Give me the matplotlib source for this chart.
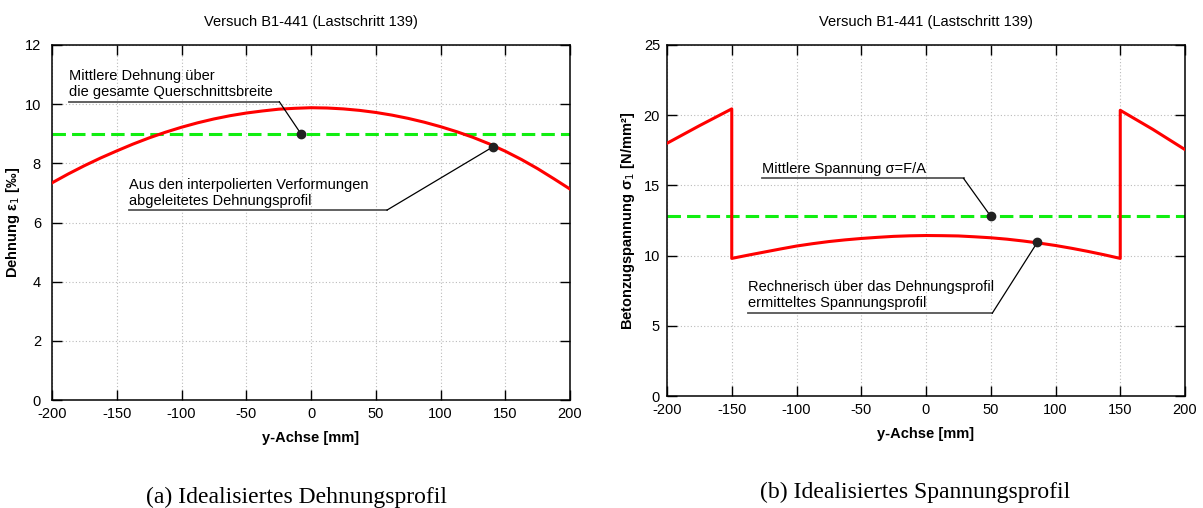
import numpy as np
import matplotlib.pyplot as plt

plt.rcParams['font.family'] = ['Liberation Sans', 'DejaVu Sans']
plt.rcParams['axes.unicode_minus'] = False

# data
y_pos = [-200, -187.5, -175, -162.5, -150, -137.5, -125, -112.5, -100, -87.5, -75, -62.5, -50, -37.5, -25,
         -12.5, 0, 12.5, 25, 37.5, 50, 62.5, 75, 87.5, 100, 112.5, 125, 137.5, 150, 162.5, 175, 187.5, 200]
strain = [7.34, 7.64, 7.92, 8.18, 8.42, 8.65, 8.86, 9.05, 9.22, 9.37, 9.50, 9.61, 9.70, 9.77, 9.83,
          9.86, 9.88, 9.87, 9.84, 9.79, 9.72, 9.63, 9.52, 9.39, 9.24, 9.07, 8.88, 8.66, 8.41, 8.13, 7.82, 7.48, 7.13]
strain_mean = 9.0

stress_y = [-200, -175, -150, -150, -137.5, -125, -112.5, -100, -87.5, -75, -62.5, -50, -37.5, -25, -12.5, 0,
            12.5, 25, 37.5, 50, 62.5, 75, 87.5, 100, 112.5, 125, 137.5, 150, 150, 175, 200]
stress = [18.0, 19.25, 20.45, 9.80, 10.03, 10.25, 10.47, 10.68, 10.85, 11.0, 11.12, 11.22, 11.30, 11.37, 11.41,
          11.43, 11.42, 11.40, 11.34, 11.27, 11.17, 11.04, 10.89, 10.72, 10.52, 10.30, 10.06, 9.80, 20.35, 19.0, 17.55]
stress_mean = 12.8

title = 'Versuch B1-441 (Lastschritt 139)'
xticks = [-200, -150, -100, -50, 0, 50, 100, 150, 200]

W, H = 1203, 508
fig = plt.figure(figsize=(W / 100, H / 100), dpi=100)
ax1 = fig.add_axes([52 / W, 1 - 400 / H, 518 / W, 355 / H])
ax2 = fig.add_axes([667 / W, 1 - 396 / H, 518 / W, 351 / H])

def style(ax, ylim, yticks, ylabel, ypad):
    ax.set_xlim(-200, 200)
    ax.set_ylim(*ylim)
    ax.set_xticks(xticks)
    ax.set_yticks(yticks)
    ax.grid(True, color='#bbbbbb', linestyle=(0, (1, 2)), linewidth=0.8)
    ax.tick_params(direction='in', length=7, width=1, top=True, right=True, labelsize=10.5)
    ax.tick_params(axis='x', pad=5)
    ax.tick_params(axis='y', pad=ypad)
    for s in ax.spines.values():
        s.set_linewidth(1.1)
    h = ax.get_position().height * H
    w = ax.get_position().width * W
    ax.text(0.5, 1 + 23 / h, title, transform=ax.transAxes, ha='center', va='center', fontsize=10.5)
    ax.set_xlabel('y-Achse [mm]', fontsize=10.5, fontweight='bold')
    ax.xaxis.set_label_coords(0.5, -31 / h)
    ax.set_ylabel(ylabel, fontsize=10.5, fontweight='bold')
    ax.yaxis.set_label_coords(-30 / w, 0.5)

def callout(ax, lines_xy, txt, txt_xy, dot):
    xs, ys = zip(*lines_xy)
    ax.plot(xs[:2], ys[:2], color='#555555', lw=1.3, zorder=4)
    ax.plot(xs[1:], ys[1:], color='black', lw=0.9, zorder=4)
    ax.plot(*dot, 'o', color='#222222', ms=6, zorder=5)
    ax.text(*txt_xy, txt, fontsize=10.5, va='bottom', ha='left', linespacing=1.2)

# (a) strain
ax1.plot(y_pos, strain, color='red', lw=2.2, zorder=3)
ax1.axhline(strain_mean, color='#11ee11', lw=2.2, dashes=(4.4, 2), zorder=2)
style(ax1, (0, 12), [0, 2, 4, 6, 8, 10, 12], 'Dehnung ε$_1$ [‰]', 8)
callout(ax1, [(-186.7, 10.08), (-24.4, 10.08), (-7.8, 9.0)],
        'Mittlere Dehnung über\ndie gesamte Querschnittsbreite', (-186.7, 10.16), (-7.8, 9.0))
callout(ax1, [(-140.3, 6.42), (58.7, 6.42), (140.6, 8.56)],
        'Aus den interpolierten Verformungen\nabgeleitetes Dehnungsprofil', (-140.3, 6.50), (140.6, 8.56))

# (b) stress
ax2.plot(stress_y, stress, color='red', lw=2.2, zorder=3)
ax2.axhline(stress_mean, color='#11ee11', lw=2.2, dashes=(4.4, 2), zorder=2)
style(ax2, (0, 25), [0, 5, 10, 15, 20, 25], 'Betonzugspannung σ$_1$ [N/mm²]', 5)
callout(ax2, [(-127, 15.5), (29, 15.5), (50, 12.8)],
        'Mittlere Spannung σ=F/A', (-127, 15.7), (50, 12.8))
callout(ax2, [(-137.4, 5.9), (51.2, 5.9), (86, 10.95)],
        'Rechnerisch über das Dehnungsprofil\nermitteltes Spannungsprofil', (-137.4, 6.1), (86, 10.95))

fig.text(297 / W, 1 - 497 / H, '(a) Idealisiertes Dehnungsprofil', ha='center', va='center',
         family='Liberation Serif', fontsize=17)
fig.text(915 / W, 1 - 492 / H, '(b) Idealisiertes Spannungsprofil', ha='center', va='center',
         family='Liberation Serif', fontsize=17)

fig.savefig('out.png', dpi=100)
